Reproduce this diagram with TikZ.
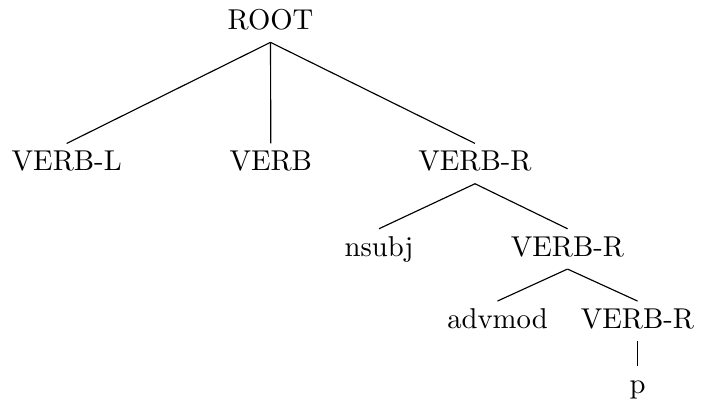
\documentclass[tikz,border=0pt]{standalone}
\usepackage{tikz}

\begin{document}
\begin{tikzpicture}[x=0.3485pt, y=-0.3485pt,
  lab/.style={anchor=base, inner sep=0pt, text height=9.3pt, text depth=4.35pt}]
\useasboundingbox (0,0) rectangle (701,406);
%
\node[lab] (root) at (270.5,29.3) {ROOT};
\node[lab] (vl)   at (66.7,170.7)  {VERB-L};
\node[lab] (v)    at (270.8,170.7) {VERB};
\node[lab] (vr1)  at (475,170.7)   {VERB-R};
\node[lab] (ns)   at (379,256)     {nsubj};
\node[lab] (vr2)  at (567.5,256)   {VERB-R};
\node[lab] (adv)  at (497.5,328.3) {advmod};
\node[lab] (vr3)  at (637.5,328.3) {VERB-R};
\node[lab] (p)    at (637.5,393.3) {p};

\draw (root.south) -- (vl.north);
\draw (root.south) -- (v.north);
\draw (root.south) -- (vr1.north);
\draw (vr1.south) -- (ns.north);
\draw (vr1.south) -- (vr2.north);
\draw (vr2.south) -- (adv.north);
\draw (vr2.south) -- (vr3.north);
\draw (vr3.south) -- (p.north);
%
\end{tikzpicture}
\end{document}
